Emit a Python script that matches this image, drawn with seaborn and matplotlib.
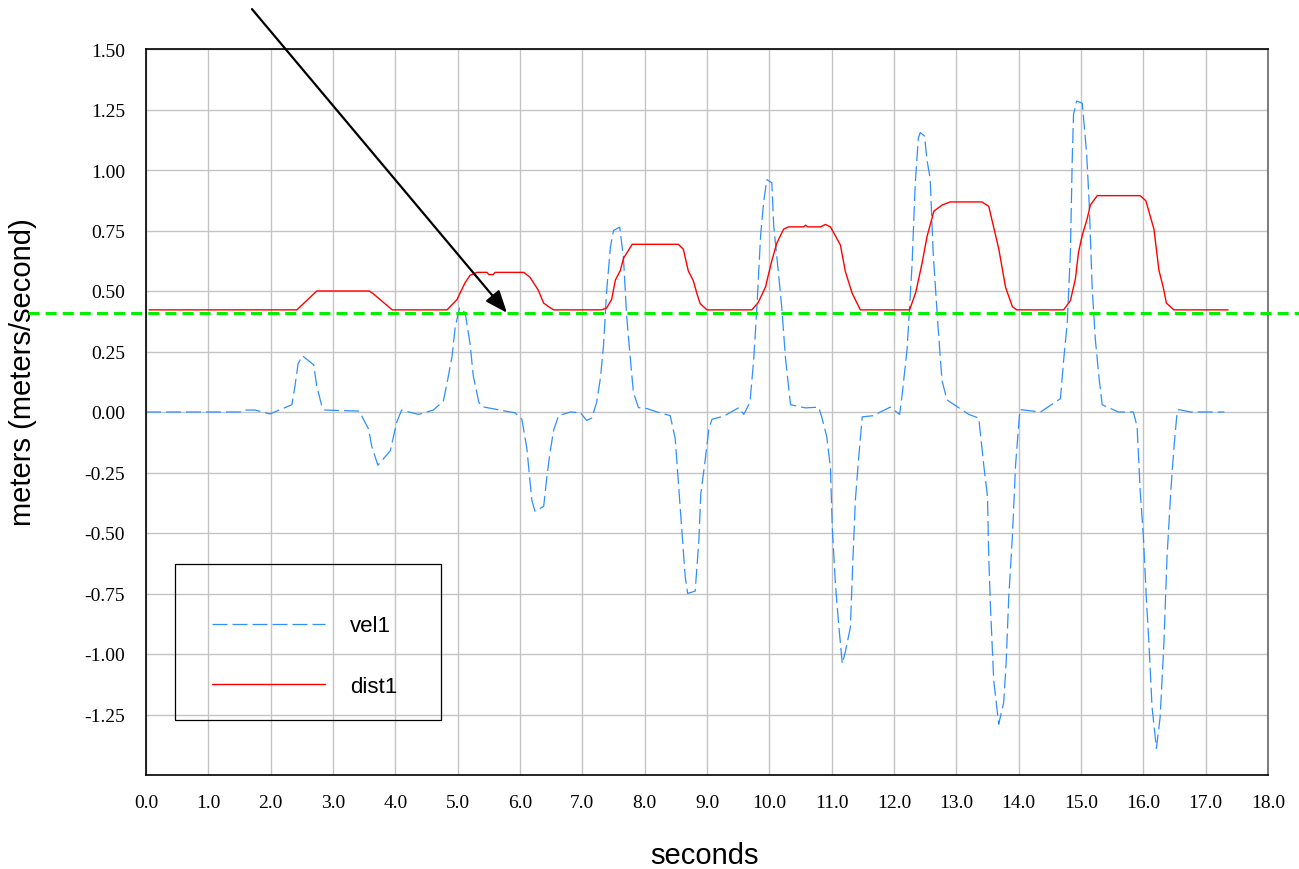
import numpy as np
import pandas as pd
import seaborn as sns
import matplotlib.pyplot as plt
from matplotlib.patches import Rectangle

# velocity trace (vel1)
vel_t = [0.0, 1.51, 1.56, 1.75, 1.99, 2.34, 2.39, 2.44, 2.51, 2.69, 2.74, 2.82, 2.87, 3.41,
         3.46, 3.57, 3.62, 3.72, 3.92, 4.02, 4.1, 4.37, 4.61, 4.77, 4.83, 4.91, 4.96, 5.03,
         5.12, 5.2, 5.25, 5.34, 5.39, 5.84, 5.92, 6.03, 6.11, 6.14, 6.19, 6.24, 6.38, 6.43,
         6.48, 6.54, 6.62, 6.81, 6.97, 7.07, 7.15, 7.23, 7.29, 7.34, 7.39, 7.45, 7.5, 7.6,
         7.66, 7.71, 7.77, 7.82, 7.9, 8.04, 8.2, 8.41, 8.49, 8.54, 8.6, 8.65, 8.69, 8.81,
         8.87, 8.9, 8.97, 9.03, 9.08, 9.27, 9.51, 9.59, 9.69, 9.75, 9.8, 9.86, 9.91, 9.96,
         10.04, 10.07, 10.15, 10.2, 10.26, 10.34, 10.58, 10.79, 10.84, 10.92, 10.98, 11.01,
         11.06, 11.11, 11.17, 11.22, 11.3, 11.34, 11.38, 11.43, 11.49, 11.68, 11.78, 11.94,
         12.09, 12.13, 12.21, 12.29, 12.34, 12.39, 12.42, 12.49, 12.53, 12.58, 12.63, 12.71,
         12.77, 12.85, 13.2, 13.36, 13.44, 13.5, 13.52, 13.55, 13.6, 13.68, 13.76, 13.8,
         13.84, 13.9, 13.95, 14.02, 14.35, 14.67, 14.72, 14.78, 14.83, 14.86, 14.88, 14.93,
         15.02, 15.09, 15.13, 15.18, 15.23, 15.29, 15.34, 15.6, 15.84, 15.9, 15.95, 16.0,
         16.05, 16.09, 16.14, 16.21, 16.27, 16.33, 16.38, 16.44, 16.49, 16.54, 16.57, 16.76,
         17.3]
vel1 = [0.0, 0.0, 0.008, 0.008, -0.008, 0.03, 0.107, 0.2, 0.232, 0.195, 0.107, 0.025, 0.008, 0.004,
        -0.016, -0.07, -0.14, -0.22, -0.16, -0.044, 0.008, -0.01, 0.008, 0.045, 0.12, 0.23, 0.35, 0.43,
        0.41, 0.28, 0.15, 0.04, 0.022, 0.0, -0.003, -0.03, -0.15, -0.23, -0.365, -0.41, -0.39, -0.27,
        -0.17, -0.074, -0.015, 0.0, -0.003, -0.035, -0.025, 0.04, 0.14, 0.275, 0.5, 0.68, 0.75, 0.764,
        0.636, 0.4, 0.22, 0.08, 0.018, 0.014, 0.0, -0.015, -0.11, -0.29, -0.5, -0.68, -0.75, -0.74,
        -0.53, -0.34, -0.2, -0.07, -0.03, -0.017, 0.018, -0.01, 0.04, 0.22, 0.43, 0.73, 0.87, 0.96,
        0.947, 0.77, 0.565, 0.43, 0.22, 0.03, 0.017, 0.02, -0.02, -0.1, -0.23, -0.48,
        -0.71, -0.87, -1.04, -0.99, -0.89, -0.615, -0.365, -0.2, -0.02, -0.015, 0.0, 0.02,
        -0.01, 0.07, 0.26, 0.61, 0.94, 1.13, 1.155, 1.14, 1.04, 0.965, 0.65, 0.34,
        0.13, 0.05, -0.01, -0.025, -0.22, -0.35, -0.6, -0.82, -1.11, -1.29, -1.2, -1.03,
        -0.77, -0.51, -0.22, 0.01, 0.0, 0.055, 0.21, 0.37, 0.66, 1.05, 1.23, 1.285,
        1.276, 1.07, 0.87, 0.51, 0.3, 0.14, 0.03, 0.0, 0.0, -0.06, -0.33, -0.51,
        -0.78, -0.955, -1.22, -1.39, -1.26, -0.955, -0.6, -0.33, -0.15, -0.005, 0.01, 0.0,
        0.0]

# distance trace (dist1)
dist_t = [0.05, 2.42, 2.74, 3.58, 3.64, 3.95, 4.83, 4.99, 5.12, 5.2, 5.31, 5.47, 5.5, 5.57, 5.6,
          6.06, 6.16, 6.29, 6.38, 6.46, 6.54, 7.31, 7.39, 7.47, 7.53, 7.61, 7.66, 7.8, 8.54, 8.62,
          8.7, 8.78, 8.84, 8.89, 9.0, 9.72, 9.82, 9.94, 9.98, 10.04, 10.12, 10.23, 10.31, 10.55,
          10.58, 10.62, 10.82, 10.9, 10.98, 11.14, 11.22, 11.33, 11.46, 12.25, 12.35, 12.45, 12.53,
          12.64, 12.77, 12.9, 13.41, 13.52, 13.68, 13.79, 13.9, 13.97, 14.72, 14.83, 14.91, 14.96,
          15.02, 15.1, 15.15, 15.26, 15.95, 16.04, 16.17, 16.25, 16.32, 16.37, 16.49, 17.36]
dist1 = [0.422, 0.422, 0.50, 0.50, 0.49, 0.422, 0.422, 0.465, 0.535, 0.565, 0.577, 0.577, 0.568, 0.568, 0.577,
         0.577, 0.557, 0.505, 0.45, 0.435, 0.422, 0.422, 0.43, 0.465, 0.545, 0.585, 0.635, 0.693, 0.693, 0.673,
         0.583, 0.543, 0.488, 0.448, 0.422, 0.422, 0.452, 0.517, 0.562, 0.625, 0.698, 0.756, 0.765, 0.765,
         0.772, 0.765, 0.765, 0.775, 0.765, 0.69, 0.58, 0.49, 0.422, 0.422, 0.495, 0.615, 0.725,
         0.83, 0.855, 0.868, 0.868, 0.85, 0.675, 0.515, 0.435, 0.422, 0.422, 0.46, 0.55, 0.66,
         0.73, 0.8, 0.855, 0.894, 0.894, 0.873, 0.756, 0.586, 0.514, 0.45, 0.422, 0.422]

threshold = 0.41
x_ticks = list(range(0, 19))
y_ticks = [-1.25, -1.0, -0.75, -0.5, -0.25, 0.0, 0.25, 0.5, 0.75, 1.0, 1.25, 1.5]

sns.set_style('white')
plt.rcParams['font.family'] = ['Liberation Serif', 'DejaVu Serif']
plt.rcParams['text.color'] = 'black'
plt.rcParams['axes.labelcolor'] = 'black'

vel = pd.DataFrame({'t': vel_t, 'v': vel1})
dist = pd.DataFrame({'t': dist_t, 'v': dist1})

fig = plt.figure(figsize=(12.99, 8.7), dpi=100)
ax = fig.add_axes([146 / 1299, 94 / 870, 1122 / 1299, 726 / 870])

sns.lineplot(data=vel, x='t', y='v', ax=ax, color='#2F8FFF', lw=0.9,
             linestyle=(0, (12, 4)), label='vel1', estimator=None, sort=False)
sns.lineplot(data=dist, x='t', y='v', ax=ax, color='#FF0000', lw=1.0,
             label='dist1', estimator=None, sort=False)

# green reference line runs past the axes on both sides
ax.axhline(threshold, xmin=(28 - 146) / 1122, xmax=1.03, color='#00F000', lw=2.2,
           linestyle=(0, (3.6, 2)), clip_on=False, zorder=5)

ax.annotate('', xy=(5.79, threshold), xytext=(1.70, 1.665),
            arrowprops=dict(arrowstyle='-|>,head_length=0.75,head_width=0.3',
                            color='black', lw=1.6, mutation_scale=18,
                            shrinkA=0, shrinkB=0),
            annotation_clip=False, zorder=6)

ax.set_xlim(0, 18)
ax.set_ylim(-1.5, 1.5)
ax.set_xticks(x_ticks)
ax.set_xticklabels([f'{v:.1f}' for v in x_ticks])
ax.set_yticks(y_ticks)
ax.set_yticklabels([f'{v:.2f}' for v in y_ticks])
ax.tick_params(direction='in', length=9, width=1, colors='black', labelsize=14)
ax.tick_params(axis='y', pad=15)
ax.tick_params(axis='x', pad=14)

ax.grid(True, color='#c4c4c4', lw=1.0)
ax.set_axisbelow(True)
for s in ax.spines.values():
    s.set_color('black')
    s.set_linewidth(1.2)
ax.spines['right'].set_color('#666666')

ax.set_xlabel('seconds', fontsize=21, fontfamily='Liberation Sans')
ax.set_ylabel('meters (meters/second)', fontsize=21, fontfamily='Liberation Sans')
ax.xaxis.set_label_coords(0.498, -0.091)
ax.yaxis.set_label_coords(-0.097, 0.556)

# legend: transparent box (grid shows through), entries placed inside
handles, labels = ax.get_legend_handles_labels()
leg = ax.legend(handles, labels, loc='upper left', bbox_to_anchor=(0.0588, 0.220),
                borderaxespad=0, borderpad=0, frameon=False,
                prop={'family': 'Liberation Sans', 'size': 16},
                handlelength=5.1, handletextpad=1.1, labelspacing=1.78)
for txt in leg.get_texts():
    txt.set_color('black')
ax.add_patch(Rectangle((0.0258, 0.0758), 0.2371, 0.2148, transform=ax.transAxes,
                       fill=False, edgecolor='black', lw=0.9, zorder=4))

fig.savefig('out.png', dpi=100)
